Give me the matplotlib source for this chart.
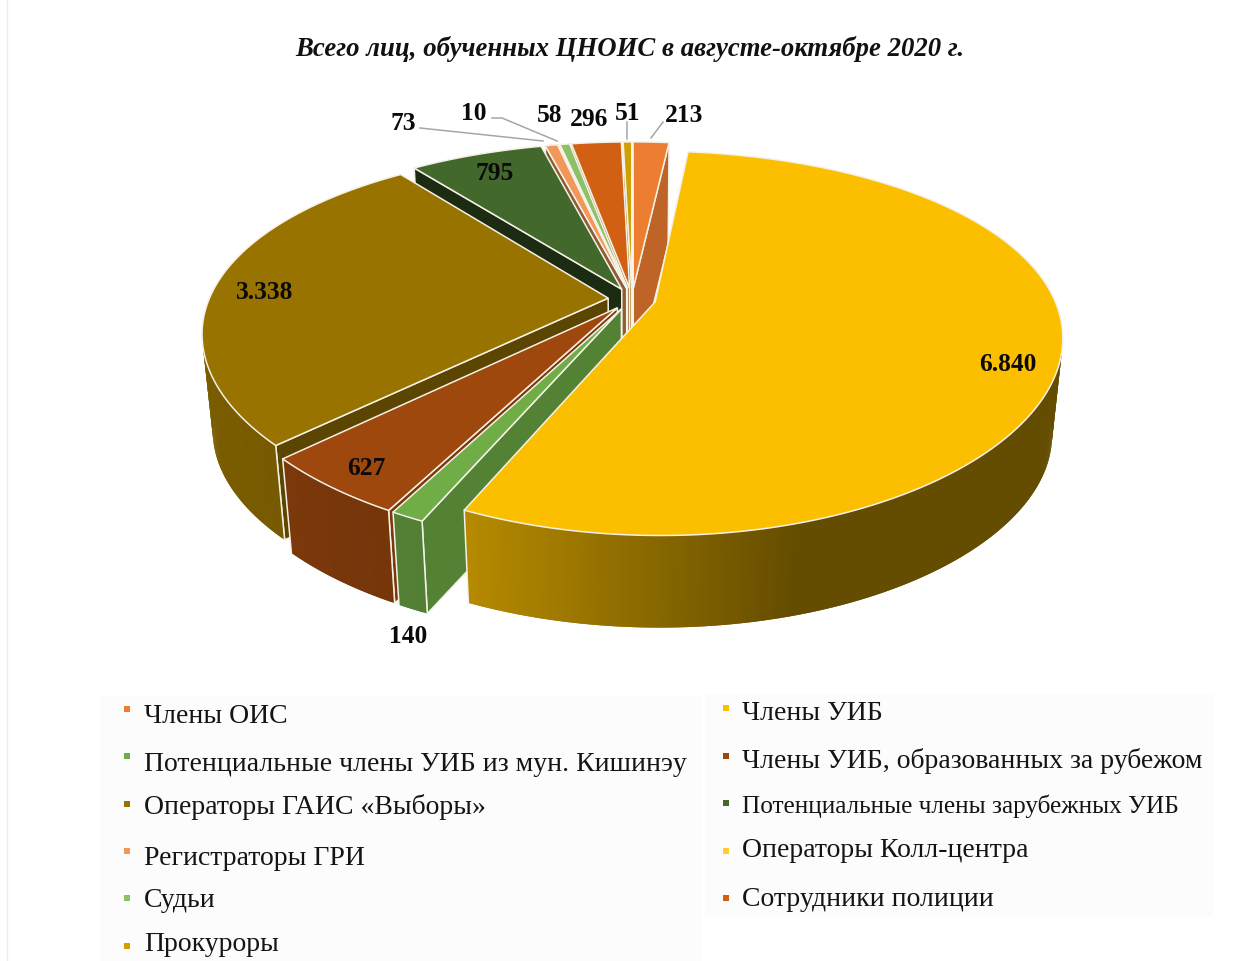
"""Exploded 3D pie of people trained by CNOIS, drawn with plain matplotlib polygons."""

import matplotlib

matplotlib.use("Agg")
import matplotlib.pyplot as plt
import numpy as np
from matplotlib.colors import to_rgb
from matplotlib.patches import Rectangle

TITLE = "Всего лиц, обученных ЦНОИС в августе-октябре 2020 г."

CATEGORIES = [
    "Члены ОИС",
    "Члены УИБ",
    "Потенциальные члены УИБ из мун. Кишинэу",
    "Члены УИБ, образованных за рубежом",
    "Операторы ГАИС «Выборы»",
    "Потенциальные члены зарубежных УИБ",
    "Регистраторы ГРИ",
    "Операторы Колл-центра",
    "Судьи",
    "Сотрудники полиции",
    "Прокуроры",
]
VALUES = [213, 6840, 140, 627, 3338, 795, 73, 10, 58, 296, 51]
COLORS = [
    "#ED7D31", "#FBBF00", "#70AD47", "#9E480E", "#997300", "#43682B",
    "#F1975A", "#FFCD33", "#8CC168", "#D26012", "#CFA000",
]
SIDE_SHADE = [0.8, 0.7, 0.75, 0.78, 0.6, 0.42, 0.6, 0.7, 0.7, 0.7, 0.7]

# layout, in pixels of the 1242x962 canvas
CX, CY = 632, 300
RX, RY = 399, 182
PERSPECTIVE_X = 0.18
PERSPECTIVE_Y = 0.215
EXPLODE = 0.06
WALL = 98
BOTTOM_SCALE = 0.975
EDGE = "#F4F1E6"

LABEL_XY = [
    (684, 116), (1008, 365), (408, 637), (366, 469), (265, 293), (495, 174),
    (403, 124), (474, 114), (550, 116), (589, 120), (628, 113),
]
LEADERS = [
    [(663, 123), (651, 139)],
    [(420, 129), (543, 142)],
    [(492, 119), (502, 119), (557, 142)],
    [(627, 123), (627, 140)],
]
LEGEND_LEFT_Y = [(710, 717), (757, 765), (805, 807), (852, 859), (899, 901), (947, 945)]
LEGEND_RIGHT_Y = [(709, 714), (757, 761), (804, 806), (852, 851), (899, 900)]
LEGEND_SIZE = {5: 18.2}

plt.rcParams["font.family"] = ["Liberation Serif", "DejaVu Serif"]


def project(theta, radius, off_u, off_v, bottom=False):
    """Map a point of the unit disc (clockwise from top) to the canvas."""
    u = radius * np.sin(theta) + off_u
    v = radius * np.cos(theta) + off_v
    x = RX * u / (1 + PERSPECTIVE_X * v)
    y = -RY * v / (1 + PERSPECTIVE_Y * v)
    if bottom:
        return CX + x * BOTTOM_SCALE, CY + y * BOTTOM_SCALE + WALL
    return CX + x, CY + y


def shade(color, factor):
    return tuple(c * factor for c in to_rgb(color))


def rim_shade(x):
    return np.interp(x, [200, 470, 800, 1100], [0.8, 0.72, 0.4, 0.4])


def draw_slice(ax, start, end, color, side_factor, z):
    mid = (start + end) / 2
    off_u, off_v = EXPLODE * np.sin(mid), EXPLODE * np.cos(mid)
    n = max(int(np.degrees(end - start) * 2), 2)
    arc = np.linspace(start, end, n)
    top_x, top_y = project(arc, 1, off_u, off_v)
    bot_x, bot_y = project(arc, 1, off_u, off_v, bottom=True)
    apex_x, apex_y = project(0.0, 0, off_u, off_v)
    apex_bx, apex_by = project(0.0, 0, off_u, off_v, bottom=True)

    # radial faces, only the ones turned towards the viewer
    faces = []
    if np.sin(start) < 0:
        faces.append(0)
    if np.sin(end) > 0:
        faces.append(-1)
    for i in faces:
        ax.fill(
            [apex_x, top_x[i], bot_x[i], apex_bx],
            [apex_y, top_y[i], bot_y[i], apex_by],
            facecolor=shade(color, side_factor),
            edgecolor=EDGE,
            linewidth=1.1,
            zorder=z,
        )

    # outer wall, each piece runs over the next so no seams show
    facing = np.cos(arc) < 0.2
    for i in range(n - 1):
        if not (facing[i] and facing[i + 1]):
            continue
        j = min(i + 2, n - 1)
        col = shade(color, rim_shade((top_x[i] + top_x[i + 1]) / 2))
        ax.fill(
            np.r_[top_x[i:j + 1], bot_x[i:j + 1][::-1]],
            np.r_[top_y[i:j + 1], bot_y[i:j + 1][::-1]],
            facecolor=col,
            edgecolor="none",
            zorder=z + 0.1,
        )
    for i in (0, -1):
        if facing[i]:
            ax.plot([top_x[i], bot_x[i]], [top_y[i], bot_y[i]], color=EDGE, lw=1.1, zorder=z + 0.2)

    # top face
    ax.fill(
        np.r_[apex_x, top_x],
        np.r_[apex_y, top_y],
        facecolor=color,
        edgecolor=EDGE,
        linewidth=1.1,
        zorder=z + 0.3,
    )


def main():
    fig = plt.figure(figsize=(12.42, 9.62), dpi=100)
    ax = fig.add_axes([0, 0, 1, 1])
    ax.set_xlim(0, 1242)
    ax.set_ylim(962, 0)
    ax.axis("off")

    ax.plot([7, 7], [0, 962], color="#EDEDED", lw=1)
    ax.add_patch(Rectangle((100, 697), 602, 265, facecolor="#FCFCFC", edgecolor="none"))
    ax.add_patch(Rectangle((705, 695), 508, 223, facecolor="#FCFCFC", edgecolor="none"))

    ax.text(630, 49, TITLE, fontsize=19.3, fontweight="bold", fontstyle="italic",
            ha="center", va="center", color="#111111")

    angles = np.r_[0, np.cumsum(VALUES)] / sum(VALUES) * 2 * np.pi
    mids = (angles[:-1] + angles[1:]) / 2
    # back slices first; the big yellow one overlaps the walls next to it
    order = sorted(range(len(VALUES)), key=lambda i: -np.cos(mids[i]))
    biggest = int(np.argmax(VALUES))
    order.remove(biggest)
    order.append(biggest)
    for rank, i in enumerate(order):
        draw_slice(ax, angles[i], angles[i + 1], COLORS[i], SIDE_SHADE[i], 2 + rank)

    for leader in LEADERS:
        xs, ys = zip(*leader)
        ax.plot(xs, ys, color="#A6A6A6", lw=1.1, zorder=20)

    for value, (x, y) in zip(VALUES, LABEL_XY):
        ax.text(x, y, f"{value:,}".replace(",", "."), fontsize=18.4, fontweight="bold",
                ha="center", va="center", color="#0A0A0A", zorder=21)

    left, right = iter(LEGEND_LEFT_Y), iter(LEGEND_RIGHT_Y)
    for i, name in enumerate(CATEGORIES):
        marker_y, text_y = next(left) if i % 2 == 0 else next(right)
        marker_x, text_x = (127, 144) if i % 2 == 0 else (726, 742)
        ax.plot([marker_x], [marker_y], "s", color=COLORS[i], ms=4.2, mew=0)
        ax.text(text_x, text_y, name, fontsize=LEGEND_SIZE.get(i, 20),
                ha="left", va="center", color="#141414")

    fig.savefig("out.png", dpi=100)
    plt.close(fig)


if __name__ == "__main__":
    main()
